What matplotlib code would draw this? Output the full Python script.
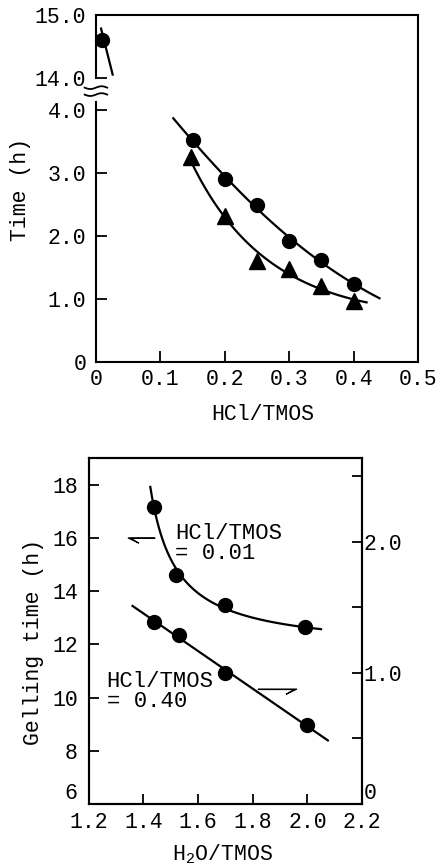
import numpy as np
import matplotlib
matplotlib.use("Agg")
from matplotlib import pyplot as plt

plt.rcParams["font.family"] = ["Liberation Mono", "DejaVu Sans Mono"]
plt.rcParams["mathtext.fontset"] = "custom"
plt.rcParams["mathtext.rm"] = "Liberation Mono"
plt.rcParams["mathtext.it"] = "Liberation Mono"

# ---- top panel: time vs HCl/TMOS ----
hcl_circ = [0.01, 0.15, 0.20, 0.25, 0.30, 0.35, 0.40]
time_circ = [14.6, 3.53, 2.90, 2.49, 1.92, 1.62, 1.23]
hcl_tri = [0.147, 0.20, 0.25, 0.30, 0.35, 0.40]
time_tri = [3.25, 2.31, 1.60, 1.48, 1.20, 0.96]
# short curve piece through the HCl/TMOS=0.01 point
curve001_x = [0.008, 0.026]
curve001_y = [14.78, 14.05]
circ_fit_range = [0.12, 0.44]
tri_fit_range = [0.145, 0.42]

top_yticks = [0, 1, 2, 3, 4, 14, 15]
top_ylabels = ["0", "1.0", "2.0", "3.0", "4.0", "14.0", "15.0"]
top_xticks = [0, 0.1, 0.2, 0.3, 0.4, 0.5]
top_xlabels = ["0", "0.1", "0.2", "0.3", "0.4", "0.5"]

# ---- bottom panel: gelling time vs H2O/TMOS ----
h2o_a = [1.44, 1.52, 1.70, 1.99]        # HCl/TMOS = 0.01, left axis
gel_a = [17.17, 14.6, 13.47, 12.65]
h2o_b = [1.44, 1.53, 1.70, 2.00]        # HCl/TMOS = 0.40, right axis
gel_b = [1.39, 1.29, 1.00, 0.60]
curve_a_range = [1.425, 2.05]
curve_b_range = [1.36, 2.075]
hyper_shift = 1.33

bot_xticks = [1.2, 1.4, 1.6, 1.8, 2.0, 2.2]
bot_yticks = [6, 8, 10, 12, 14, 16, 18]
right_ticks = [0, 1.0, 2.0]
right_labels = ["0", "1.0", "2.0"]
right_minor = [0.5, 1.5, 2.5]

fs = 15.5
lw = 1.6

# broken y axis: 4.25 .. 14 squeezed into a small gap
lo, hi, hi_pos = 4.25, 14.0, 4.51


def fwd(y):
    y = np.asarray(y, dtype=float)
    return np.where(y <= lo, y,
                    np.where(y >= hi, y - hi + hi_pos,
                             lo + (y - lo) * (hi_pos - lo) / (hi - lo)))


def inv(t):
    t = np.asarray(t, dtype=float)
    return np.where(t <= lo, t,
                    np.where(t >= hi_pos, t + hi - hi_pos,
                             lo + (t - lo) * (hi - lo) / (hi_pos - lo)))


fig = plt.figure(figsize=(4.42, 8.66), dpi=100)

ax1 = fig.add_axes([0.217, 0.582, 0.729, 0.401])
ax1.set_yscale("function", functions=(fwd, inv))
ax1.set_xlim(0, 0.5)
ax1.set_ylim(0, 15)

# fitted curves (exponential-type fit through the points)
c = np.polyfit(hcl_circ[1:], np.log(time_circ[1:]), 2)
xs = np.linspace(circ_fit_range[0], circ_fit_range[1], 100)
ax1.plot(xs, np.exp(np.polyval(c, xs)), color="black", lw=lw)
c = np.polyfit(hcl_tri, np.log(time_tri), 2)
xs = np.linspace(tri_fit_range[0], tri_fit_range[1], 100)
ax1.plot(xs, np.exp(np.polyval(c, xs)), color="black", lw=lw)
ax1.plot(curve001_x, curve001_y, color="black", lw=lw)

ax1.plot(hcl_circ, time_circ, "o", color="black", ms=10, clip_on=False)
ax1.plot(hcl_tri, time_tri, "^", color="black", ms=11)

ax1.set_yticks(top_yticks)
ax1.set_yticklabels(top_ylabels)
ax1.yaxis.set_minor_locator(matplotlib.ticker.NullLocator())
ax1.set_xticks(top_xticks)
ax1.set_xticklabels(top_xlabels)
ax1.tick_params(direction="in", length=8, width=1.3, labelsize=fs)
ax1.tick_params(axis="y", pad=7)
ax1.tick_params(axis="x", pad=5)

for s in ax1.spines.values():
    s.set_linewidth(1.5)
ax1.spines["left"].set_bounds(0, 4.12)
ax1.plot([0, 0], [14, 15], color="black", lw=1.5,
         transform=ax1.get_yaxis_transform(), clip_on=False)
# break marks
wx = np.linspace(-0.035, 0.035, 40)
for yb in (0.79, 0.77):
    ax1.plot(wx, yb + 0.004 * np.sin(wx / 0.035 * np.pi), color="black",
             lw=1.3, transform=ax1.transAxes, clip_on=False)

ax1.set_xlabel("HCl/TMOS", fontsize=fs)
ax1.xaxis.set_label_coords(0.519, -0.12)
ax1.set_ylabel("Time (h)", fontsize=fs)
ax1.yaxis.set_label_coords(-0.2, 0.496)

# ---- bottom ----
ax2 = fig.add_axes([0.201, 0.0716, 0.618, 0.3995])
ax2.set_xlim(1.2, 2.2)
ax2.set_ylim(6, 19)
ax3 = ax2.twinx()
ax3.set_ylim(0, 2.64)

xs = np.linspace(curve_a_range[0], curve_a_range[1], 100)
c = np.polyfit(1 / (np.array(h2o_a) - hyper_shift), gel_a, 1)
ax2.plot(xs, np.polyval(c, 1 / (xs - hyper_shift)), color="black", lw=lw)
ax2.plot(h2o_a, gel_a, "o", color="black", ms=10)

xs = np.linspace(curve_b_range[0], curve_b_range[1], 10)
c = np.polyfit(h2o_b, gel_b, 1)
ax3.plot(xs, np.polyval(c, xs), color="black", lw=lw)
ax3.plot(h2o_b, gel_b, "o", color="black", ms=10)

ax2.text(1.515, 16.55, "HCl/TMOS\n= 0.01", fontsize=16, va="top", ha="left",
         linespacing=0.95)
ax2.text(1.265, 11.0, "HCl/TMOS\n= 0.40", fontsize=16, va="top", ha="left",
         linespacing=0.95)
ax2.arrow(1.442, 16.0, -0.099, 0, shape="right", width=0.04,
          head_width=0.4, head_length=0.04, overhang=0.7,
          length_includes_head=True, color="black", lw=0.8)
ax2.arrow(1.82, 10.32, 0.142, 0, shape="left", width=0.04,
          head_width=0.4, head_length=0.04, overhang=0.7,
          length_includes_head=True, color="black", lw=0.8)

ax2.set_xticks(bot_xticks)
ax2.set_xticklabels([f"{v:.1f}" for v in bot_xticks])
ax2.set_yticks(bot_yticks)
ax2.tick_params(direction="in", length=7, width=1.3, labelsize=fs)
ax2.tick_params(axis="y", pad=8)
ax2.tick_params(axis="x", pad=6)
ax2.get_yticklabels()[0].set_va("bottom")
ax3.set_yticks(right_ticks)
ax3.set_yticklabels(right_labels)
ax3.set_yticks(right_minor, minor=True)
ax3.tick_params(which="both", direction="in", length=7, width=1.3,
                labelsize=fs, pad=1)
ax3.get_yticklabels()[0].set_va("bottom")
for a in (ax2, ax3):
    for s in a.spines.values():
        s.set_linewidth(1.5)

ax2.set_xlabel("H$_2$O/TMOS", fontsize=fs)
ax2.xaxis.set_label_coords(0.49, -0.112)
ax2.set_ylabel("Gelling time (h)", fontsize=fs)
ax2.yaxis.set_label_coords(-0.165, 0.468)

fig.savefig("out.png", dpi=100, facecolor="white")
